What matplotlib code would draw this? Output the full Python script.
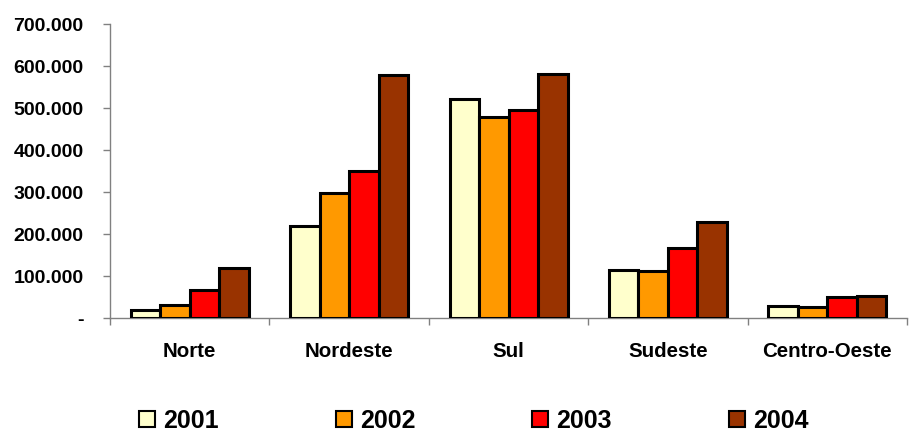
import numpy as np
import matplotlib.pyplot as plt
from matplotlib.ticker import FuncFormatter, FixedLocator

regioes = ["Norte", "Nordeste", "Sul", "Sudeste", "Centro-Oeste"]
anos = ["2001", "2002", "2003", "2004"]
v2001 = [20000, 220000, 523000, 116000, 29000]
v2002 = [32000, 298000, 479000, 113000, 27000]
v2003 = [67000, 351000, 496000, 167000, 51000]
v2004 = [120000, 580000, 582000, 229000, 54000]
cores = ["#FFFFCC", "#FF9900", "#FF0000", "#993300"]

plt.rcParams['font.family'] = ['Liberation Sans', 'DejaVu Sans']
plt.rcParams['font.weight'] = 'bold'

fig = plt.figure(figsize=(9.11, 4.34), dpi=100)
ax = fig.add_axes([0.1207, 0.2666, 0.875, 0.677])

x = np.arange(len(regioes))
w = 0.185
series = [v2001, v2002, v2003, v2004]
for i, (vals, cor, ano) in enumerate(zip(series, cores, anos)):
    ax.bar(x + (i - 1.5) * w, vals, w, color=cor, edgecolor="black",
           linewidth=2.2, label=ano, zorder=3)

ax.set_xlim(-0.5, len(regioes) - 0.5)
ax.set_ylim(0, 700000)
ax.set_yticks(np.arange(0, 700001, 100000))

def fmt(v, pos):
    if v == 0:
        return "-"
    return f"{int(v):,}".replace(",", ".")

ax.yaxis.set_major_formatter(FuncFormatter(fmt))
ax.set_xticks(x)
ax.set_xticklabels(regioes)
ax.xaxis.set_minor_locator(FixedLocator(np.arange(-0.5, len(regioes), 1.0)))
ax.tick_params(axis="x", which="major", length=0, pad=17, labelsize=14.8)
ax.tick_params(axis="x", which="minor", length=5, width=1, color="#808080")
ax.tick_params(axis="y", length=5, width=1, color="#808080", labelsize=14, pad=14)
for lbl in ax.get_xticklabels() + ax.get_yticklabels():
    lbl.set_fontweight("bold")

for s in ["top", "right"]:
    ax.spines[s].set_visible(False)
for s in ["left", "bottom"]:
    ax.spines[s].set_color("#808080")
    ax.spines[s].set_linewidth(1)

leg = fig.legend(loc="center", bbox_to_anchor=(0.52, 1 - 421 / 434), ncol=4,
                 frameon=False, prop={"size": 18, "weight": "bold"},
                 handlelength=0.64, handleheight=0.64, handletextpad=0.32,
                 columnspacing=4.68, borderpad=0.2)
for h in leg.legend_handles:
    h.set_linewidth(1.5)

fig.savefig("out.png", dpi=100)
